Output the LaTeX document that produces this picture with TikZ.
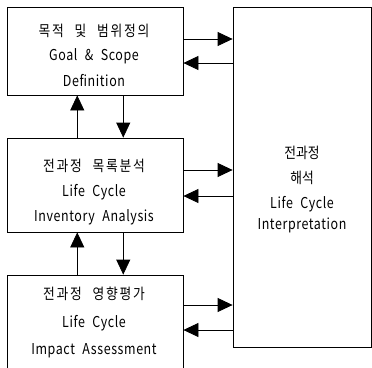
\documentclass[tikz,border=0pt]{standalone}
\usepackage{fontspec}
\setmainfont{Noto Sans CJK KR}
\newfontfamily\kor[LetterSpace=12,WordSpace=2.3,FakeStretch=0.85]{Noto Sans CJK KR}
\newfontfamily\korplain[FakeStretch=0.85]{Noto Sans CJK KR}
\newfontfamily\lat[LetterSpace=4,FakeStretch=0.83,WordSpace=2.2]{Noto Sans CJK KR}
\usetikzlibrary{arrows.meta}
\begin{document}
\begin{tikzpicture}[x=1pt,y=-1pt,
  box/.style={draw, line width=0.8pt, inner sep=0pt, anchor=center},
  arr/.style={line width=0.8pt, -{Triangle[length=15pt,width=14pt]}},
  txt/.style={align=center, font=\lat\fontsize{15}{25}\selectfont, inner sep=0pt}]
\useasboundingbox (0,0) rectangle (372,367);
\node[box, minimum width=175.5pt, minimum height=87.5pt] (b1) at (95.25,51.25) {};
\node[box, minimum width=175.5pt, minimum height=94pt] (b2) at (95.25,185) {};
\node[box, minimum width=175.5pt, minimum height=95pt] (b3) at (95.25,322.5) {};
\node[box, minimum width=138pt, minimum height=339.5pt] (R) at (302,177.25) {};
\node[txt] (t1) at (94,55.5) {{\kor\fontsize{15}{25}\selectfont 목적 및 범위정의}\\[-1pt]Goal \& Scope\\[1pt]Definition};
\node[txt] (t2) at (94,192) {{\kor\fontsize{15}{25}\selectfont 전과정 목록분석}\\Life Cycle\\Inventory Analysis};
\node[txt, font=\lat\fontsize{15}{27.5}\selectfont] (t3) at (94,322.5) {{\kor\fontsize{15}{25}\selectfont 전과정 영향평가}\\Life Cycle\\Impact Assessment};
\node[txt, font=\lat\fontsize{15}{23}\selectfont] (t4) at (302,189.5) {{\korplain\fontsize{15}{23}\selectfont 전과정}\\[1.5pt]{\korplain\fontsize{15}{23}\selectfont 해석}\\[2pt]Life Cycle\\[-2pt]Interpretation};
\draw[arr] ([yshift=12.25pt]b1.east) -- ([yshift=12.25pt]b1.east -| R.west);
\draw[arr] ([yshift=-11.75pt]b1.east -| R.west) -- ([yshift=-11.75pt]b1.east);
\draw[arr] ([yshift=15pt]b2.east) -- ([yshift=15pt]b2.east -| R.west);
\draw[arr] ([yshift=-11pt]b2.east -| R.west) -- ([yshift=-11pt]b2.east);
\draw[arr] ([yshift=17.5pt]b3.east) -- ([yshift=17.5pt]b3.east -| R.west);
\draw[arr] ([yshift=-7.5pt]b3.east -| R.west) -- ([yshift=-7.5pt]b3.east);
\draw[arr] ([xshift=-18pt]b2.north) -- ([xshift=-18pt]b1.south);
\draw[arr] ([xshift=28pt]b1.south) -- ([xshift=28pt]b2.north);
\draw[arr] ([xshift=-18pt]b3.north) -- ([xshift=-18pt]b2.south);
\draw[arr] ([xshift=28pt]b2.south) -- ([xshift=28pt]b3.north);
\end{tikzpicture}
\end{document}
